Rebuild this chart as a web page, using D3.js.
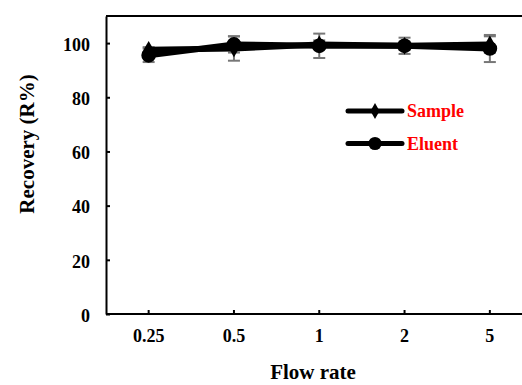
<!DOCTYPE html>
<html>
<head>
    <script src="https://d3js.org/d3.v7.min.js"></script>
    <style>
        body { margin: 0; background: #fff; }
        text { font-family: "Liberation Serif", "Times New Roman", serif; font-weight: bold; }
    </style>
</head>
<body>
    <svg width="522" height="385"></svg>

    <script>
        const svg = d3.select("svg");
        const margin = { top: 16, left: 106, bottom: 314 };

        // data
        const flowRates = ["0.25", "0.5", "1", "2", "5"];
        const sample = [97.5, 98, 99.5, 99, 99.5];
        const sampleErr = [1, 4.5, 1.5, 1.5, 3];
        const eluent = [95.5, 99.5, 99, 99, 98];
        const eluentErr = [2.5, 3, 4.5, 3, 5];
        const yTicks = [0, 20, 40, 60, 80, 100];

        const x = d3.scaleBand().domain(flowRates).range([margin.left, margin.left + 5 * 85.3]);
        const y = d3.scaleLinear().domain([0, 110]).range([margin.bottom, margin.top]);
        const cx = d => x(d) + x.bandwidth() / 2;

        // frame: top border
        svg.append("line")
            .attr("x1", margin.left).attr("x2", 522)
            .attr("y1", margin.top).attr("y2", margin.top)
            .attr("stroke", "#000").attr("stroke-width", 2);

        // axes
        const xAxis = svg.append("g")
            .attr("transform", `translate(0,${margin.bottom})`)
            .call(d3.axisBottom(x).tickSizeInner(-4).tickSizeOuter(0).tickPadding(15));
        const yAxis = svg.append("g")
            .attr("transform", `translate(${margin.left},0)`)
            .call(d3.axisLeft(y).tickValues(yTicks).tickSizeInner(-4).tickSizeOuter(0).tickPadding(16));

        [xAxis, yAxis].forEach(g => {
            g.attr("font-family", "Liberation Serif").attr("font-size", 18).attr("font-weight", "bold");
            g.select(".domain").attr("stroke", "#000").attr("stroke-width", 2);
            g.selectAll(".tick line").attr("stroke", "#000").attr("stroke-width", 2);
            g.selectAll(".tick text").attr("fill", "#000");
        });
        yAxis.selectAll(".tick text").attr("dy", "0.4em");
        xAxis.select(".domain").attr("d", `M${margin.left},0H522`);

        // axis titles
        svg.append("text")
            .attr("transform", "translate(34,144) rotate(-90)")
            .attr("text-anchor", "middle")
            .attr("font-size", 21)
            .text("Recovery (R%)");
        svg.append("text")
            .attr("x", 313).attr("y", 379)
            .attr("text-anchor", "middle")
            .attr("font-size", 21)
            .text("Flow rate");

        const series = [
            { name: "Sample", values: sample, err: sampleErr, shape: d3.symbolDiamond, size: 90 },
            { name: "Eluent", values: eluent, err: eluentErr, shape: d3.symbolCircle, size: 170 }
        ];

        // error bars
        series.forEach(s => {
            const g = svg.append("g").attr("stroke", "#777").attr("stroke-width", 2);
            flowRates.forEach((f, i) => {
                const top = y(s.values[i] + s.err[i]), bot = y(s.values[i] - s.err[i]);
                g.append("line").attr("x1", cx(f)).attr("x2", cx(f)).attr("y1", top).attr("y2", bot);
                g.append("line").attr("x1", cx(f) - 6).attr("x2", cx(f) + 6).attr("y1", top).attr("y2", top);
                g.append("line").attr("x1", cx(f) - 6).attr("x2", cx(f) + 6).attr("y1", bot).attr("y2", bot);
            });
        });

        const line = d3.line().x((d, i) => cx(flowRates[i])).y(d => y(d));

        series.forEach(s => {
            svg.append("path")
                .attr("d", line(s.values))
                .attr("fill", "none")
                .attr("stroke", "#000")
                .attr("stroke-width", 6);
            svg.selectAll(null)
                .data(s.values)
                .enter().append("path")
                .attr("transform", (d, i) => `translate(${cx(flowRates[i])},${y(d)})`)
                .attr("d", d3.symbol(s.shape, s.size))
                .attr("fill", "#000");
        });

        // legend
        const legend = svg.append("g").attr("transform", "translate(348,111)");
        series.forEach((s, i) => {
            const row = legend.append("g").attr("transform", `translate(0,${i * 32.5})`);
            row.append("line").attr("x1", 0).attr("x2", 54)
                .attr("stroke", "#000").attr("stroke-width", 5).attr("stroke-linecap", "round");
            row.append("path").attr("transform", "translate(27,0)")
                .attr("d", d3.symbol(s.shape, s.size * 0.8)).attr("fill", "#000");
            row.append("text").attr("x", 59).attr("y", 6)
                .attr("font-size", 18).attr("fill", "#ff0000")
                .text(s.name);
        });
    </script>
</body>
</html>
